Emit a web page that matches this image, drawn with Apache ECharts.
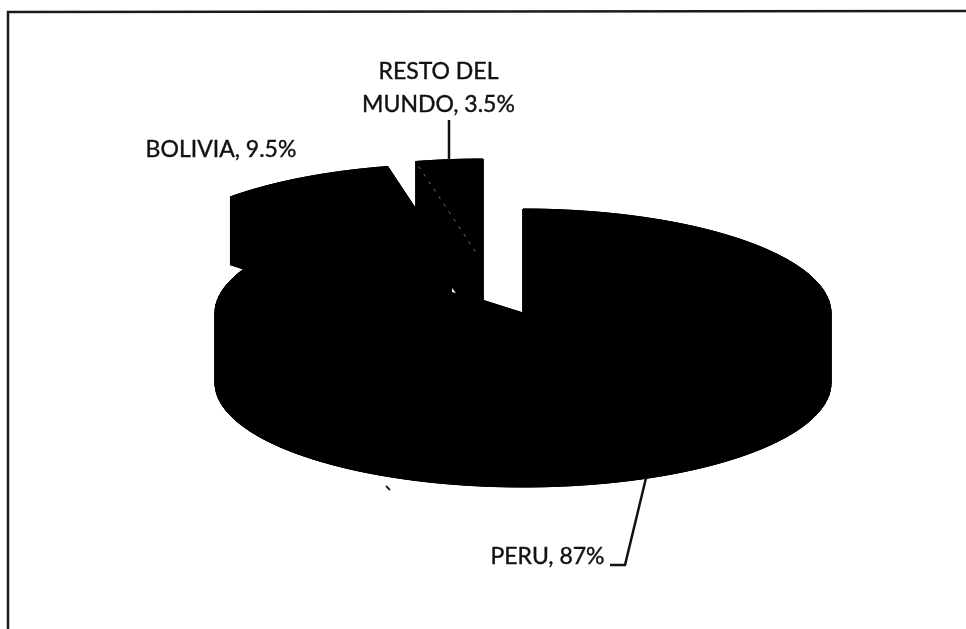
<!DOCTYPE html>
<html>
<head>
<meta charset="utf-8">
<style>
  html, body { margin: 0; padding: 0; background: #fff; }
  #chart { width: 966px; height: 629px; }
</style>
</head>
<body>
<div id="chart"></div>
<script src="https://cdn.jsdelivr.net/npm/echarts@6/dist/echarts.min.js"></script>
<script>
const categories = ["PERU", "BOLIVIA", "RESTO DEL\nMUNDO"];
const shares = [87, 9.5, 3.5];
const valueLabels = ["87%", "9.5%", "3.5%"];

// layout of the tilted pie, in pixels
const radiusX = 308;
const radiusY = 104;
const centers = [[523, 313], [455, 268], [483, 263]]; // exploded slices
const depths = [70, 68, 70];
const labelPos = [[547.5, 557], [221, 150], [438.5, 88]];
const leaders = [
  [[646, 478], [625, 565], [610, 565]],
  [],
  [[449, 120], [449, 160]],
];

const total = shares.reduce((a, b) => a + b, 0);

// clockwise from 12 o'clock, flattened to an ellipse
function rimPoint(center, turn) {
  const a = turn * Math.PI * 2;
  return [center[0] + radiusX * Math.sin(a), center[1] - radiusY * Math.cos(a)];
}

function down(p, d) {
  return [p[0], p[1] + d];
}

function black(points) {
  return {
    type: "polygon",
    shape: { points: points },
    style: { fill: "#000", stroke: "#000", lineWidth: 1 },
  };
}

function renderSlice(params, api) {
  const i = params.dataIndex;
  const from = shares.slice(0, i).reduce((a, b) => a + b, 0) / total;
  const to = from + api.value(0) / total;
  const center = centers[i];
  const d = depths[i];

  const steps = Math.max(8, Math.round((to - from) * 160));
  const top = [center];
  for (let s = 0; s <= steps; s++) {
    top.push(rimPoint(center, from + ((to - from) * s) / steps));
  }

  const children = [];
  children.push(black(top.map((p) => down(p, d))));
  for (let s = 0; s < top.length; s++) {
    const a = top[s];
    const b = top[(s + 1) % top.length];
    children.push(black([a, b, down(b, d), down(a, d)]));
  }
  children.push(black(top));

  // the broken white seam left by the scan on the small slice
  if (i == 2) {
    const p = top[1];
    const q = [p[0] + (center[0] - p[0]) * 0.9, p[1] + (center[1] - p[1]) * 0.9];
    children.push({
      type: "line",
      shape: { x1: p[0] + 3, y1: p[1] + 5, x2: q[0], y2: q[1] },
      style: { stroke: "#fff", lineWidth: 0.8, lineDash: [3, 6], opacity: 0.55 },
    });
  }

  if (leaders[i].length) {
    children.push({
      type: "polyline",
      shape: { points: leaders[i] },
      style: { stroke: "#111", lineWidth: 2.5, fill: null },
    });
  }

  children.push({
    type: "text",
    style: {
      text: categories[i] + ", " + valueLabels[i],
      x: labelPos[i][0],
      y: labelPos[i][1],
      align: "center",
      verticalAlign: "middle",
      fill: "#111",
      stroke: "#111",
      lineWidth: 0.4,
      font: "23px Lato, 'Open Sans', sans-serif",
      lineHeight: 33,
    },
  });

  return { type: "group", children: children };
}

const chart = echarts.init(document.getElementById("chart"));
chart.setOption({
  animation: false,
  backgroundColor: "#fff",
  graphic: [
    {
      type: "polyline",
      shape: { points: [[8, 629], [8, 12], [966, 11]] },
      style: { stroke: "#1a1a1a", lineWidth: 2.5, fill: null },
    },
    {
      type: "line",
      shape: { x1: 386, y1: 486, x2: 390, y2: 490 },
      style: { stroke: "#222", lineWidth: 2 },
    },
    {
      type: "polygon",
      shape: { points: [[452, 288], [456, 293], [452, 292]] },
      style: { fill: "#fff" },
      z: 10,
    },
  ],
  series: [
    {
      type: "custom",
      coordinateSystem: "none",
      renderItem: renderSlice,
      data: shares.map((v) => [v]),
    },
  ],
});
</script>
</body>
</html>
